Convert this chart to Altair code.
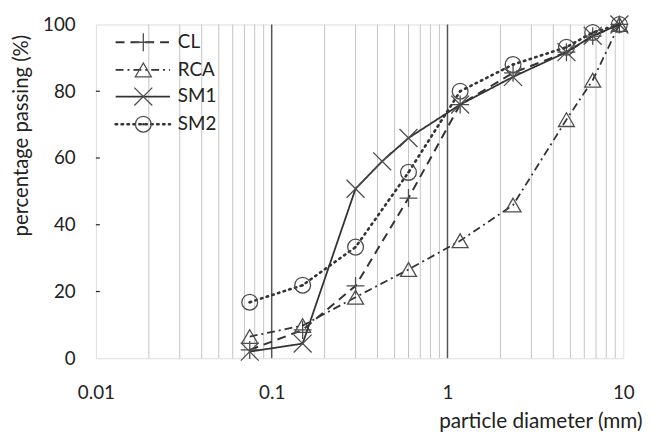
import altair as alt
import pandas as pd

# ---- data ----
series_names = ["CL", "RCA", "SM1", "SM2"]
sieve = [0.075, 0.15, 0.3, 0.6, 1.18, 2.36, 4.75, 6.7, 9.5]
sieve_sm1 = [0.075, 0.15, 0.3, 0.425, 0.6, 1.18, 2.36, 4.75, 6.7, 9.5]
cl = [2.5, 8.5, 21.7, 48.0, 76.0, 85.5, 91.7, 96.5, 100.0]
rca = [6.5, 9.8, 18.3, 26.6, 35.2, 45.9, 71.5, 83.3, 100.0]
sm1 = [2.0, 4.4, 50.8, 59.0, 66.0, 76.0, 84.3, 91.7, 96.6, 100.0]
sm2 = [16.8, 21.9, 33.3, 55.7, 80.0, 88.0, 93.2, 97.6, 100.0]

x_ticks = [0.01, 0.1, 1, 10]
y_ticks = [0, 20, 40, 60, 80, 100]
y_inner_ticks = [20, 40, 60, 80]
minor_grid = [0.02, 0.03, 0.04, 0.05, 0.06, 0.07, 0.08, 0.09,
              0.2, 0.3, 0.4, 0.5, 0.6, 0.7, 0.8, 0.9,
              2, 3, 4, 5, 6, 7, 8, 9]
major_grid = [0.1, 1]

rows = []
for name, xs, ys in [("CL", sieve, cl), ("RCA", sieve, rca),
                     ("SM1", sieve_sm1, sm1), ("SM2", sieve, sm2)]:
    for xv, yv in zip(xs, ys):
        rows.append({"d": xv, "p": yv, "s": name})
df = pd.DataFrame(rows)

FONT = "Lato"
W, H = 534, 338
LINE = "#333333"
MARK = "#4d4d4d"
TXT = "#222222"

PLUS = "M-1,0L1,0M0,-1L0,1"
XMARK = "M-1,-1L1,1M-1,1L1,-1"
styles = {
    "CL": dict(dash=[9, 6], shape=PLUS, size=330, width=2.0),
    "RCA": dict(dash=[8, 4, 2, 4], shape="triangle-up", size=260, width=1.8),
    "SM1": dict(dash=[1, 0], shape=XMARK, size=330, width=1.8),
    "SM2": dict(dash=[1.5, 4.5], shape="circle", size=256, width=2.6),
}

xscale = alt.Scale(type="log", domain=[0.01, 10], nice=False)
yscale = alt.Scale(domain=[0, 100], nice=False)

xaxis = alt.Axis(values=x_ticks, format="~g", grid=False, ticks=False, tickSize=0,
                 domain=False, labelFont=FONT, labelFontSize=19, labelColor=TXT,
                 labelPadding=26, title="particle diameter (mm)", titleFont=FONT,
                 titleFontSize=21, titleFontWeight="normal", titleColor=TXT,
                 titleAnchor="end", titleAlign="right", titleX=W + 19, titleY=64,
                 titleBaseline="middle", labelFlush=False)
yaxis = alt.Axis(values=y_ticks, grid=False, ticks=False, tickSize=0, domain=False,
                 labelFont=FONT, labelFontSize=19, labelColor=TXT, labelPadding=21,
                 title="percentage passing (%)", titleFont=FONT, titleFontSize=20.5,
                 titleFontWeight="normal", titleColor=TXT, titleAngle=270,
                 titleX=-75, titleY=112, titleAlign="center", titleBaseline="middle")

X = alt.X("d:Q", scale=xscale, axis=xaxis)
Y = alt.Y("p:Q", scale=yscale, axis=yaxis)

minor_df = pd.DataFrame({"d": minor_grid})
major_df = pd.DataFrame({"d": major_grid})
ytick_df = pd.DataFrame({"p": y_inner_ticks})

layers = []
layers.append(alt.Chart(minor_df).mark_rule(color="#c4c4c4", strokeWidth=1).encode(x=X))
layers.append(alt.Chart(major_df).mark_rule(color="#555555", strokeWidth=1.5).encode(x=X))
layers.append(alt.Chart(ytick_df).mark_rule(color=TXT, strokeWidth=1.2).encode(
    y=Y, x=alt.value(0), x2=alt.value(4)))

for name in series_names:
    st = styles[name]
    sub = alt.Chart(df).transform_filter(alt.datum.s == name)
    layers.append(sub.mark_line(color=LINE, strokeWidth=st["width"], strokeDash=st["dash"],
                                strokeCap="round" if name == "SM2" else "butt").encode(x=X, y=Y))
    layers.append(sub.mark_point(shape=st["shape"], size=st["size"], filled=False,
                                 color=MARK, strokeWidth=1.3, opacity=1).encode(x=X, y=Y))
    if name == "SM2":
        layers.append(sub.mark_point(shape="circle", size=6, filled=True, color=LINE,
                                     opacity=1).encode(x=X, y=Y))

# ---- legend (top-left, inside plot) ----
leg_y = [18, 46, 73, 101]
for name, ly in zip(series_names, leg_y):
    st = styles[name]
    ldf = pd.DataFrame({"label": [name]})
    base = alt.Chart(ldf)
    layers.append(base.mark_rule(color=LINE, strokeWidth=st["width"], strokeDash=st["dash"],
                                 strokeCap="round" if name == "SM2" else "butt").encode(
        x=alt.value(20), x2=alt.value(75), y=alt.value(ly)))
    layers.append(base.mark_point(shape=st["shape"], size=st["size"], filled=False,
                                  color=MARK, strokeWidth=1.3, opacity=1).encode(
        x=alt.value(48), y=alt.value(ly)))
    if name == "SM2":
        layers.append(base.mark_point(shape="circle", size=6, filled=True, color=LINE,
                                      opacity=1).encode(x=alt.value(48), y=alt.value(ly)))
    layers.append(base.mark_text(font=FONT, fontSize=19, color=TXT, align="left",
                                 baseline="middle").encode(
        x=alt.value(83), y=alt.value(ly), text="label:N"))

chart = alt.layer(*layers).properties(
    width=W, height=H,
    autosize=alt.AutoSizeParams(type="none"),
    padding={"left": 89, "top": 14, "right": 23, "bottom": 75},
).configure_view(stroke="#1a1a1a", strokeWidth=2).configure(background="white")

chart.save("out.html", embed_options={"renderer": "svg", "actions": False})
